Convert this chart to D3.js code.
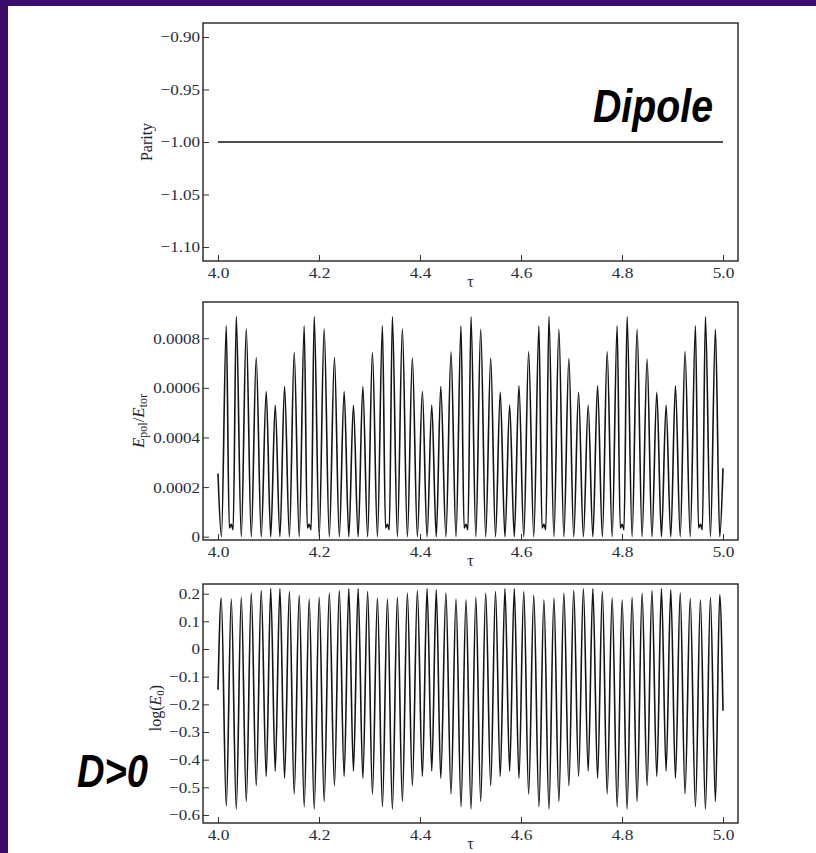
<!DOCTYPE html>
<html>
<head>
<meta charset="utf-8">
<script src="https://cdn.jsdelivr.net/npm/d3@7"></script>
<style>
  html, body { margin: 0; padding: 0; background: #3a0d6c; }
  svg { display: block; }
</style>
</head>
<body>
<svg id="chart" width="816" height="853"></svg>
<script>
// ---- data -------------------------------------------------------------
const tauTicks    = [4.0, 4.2, 4.4, 4.6, 4.8, 5.0];
const parityTicks = [-0.90, -0.95, -1.00, -1.05, -1.10];
const ratioTicks  = [0, 0.0002, 0.0004, 0.0006, 0.0008];
const logTicks    = [0.2, 0.1, 0, -0.1, -0.2, -0.3, -0.4, -0.5, -0.6];

// parity stays at -1 over the whole window
const parityTau = [4.0, 5.0];
const parityVal = [-1.0, -1.0];

// E_pol / E_tor : turning points of the oscillation
const ratioTau = [
  4.0000, 4.0068, 4.0164, 4.0224, 4.0263, 4.0300, 4.0362, 4.0461, 4.0560, 4.0659,
  4.0757, 4.0856, 4.0955, 4.1044, 4.1133, 4.1226, 4.1318, 4.1414, 4.1509, 4.1608,
  4.1707, 4.1768, 4.1806, 4.1844, 4.1905, 4.2004, 4.2102, 4.2204, 4.2306, 4.2402,
  4.2498, 4.2590, 4.2682, 4.2775, 4.2868, 4.2963, 4.3058, 4.3157, 4.3256, 4.3317,
  4.3355, 4.3392, 4.3453, 4.3552, 4.3651, 4.3750, 4.3849, 4.3948, 4.4047, 4.4140,
  4.4233, 4.4322, 4.4411, 4.4513, 4.4614, 4.4713, 4.4812, 4.4873, 4.4911, 4.4949,
  4.5010, 4.5106, 4.5202, 4.5301, 4.5400, 4.5495, 4.5589, 4.5682, 4.5775, 4.5867,
  4.5959, 4.6055, 4.6151, 4.6253, 4.6355, 4.6416, 4.6454, 4.6492, 4.6553, 4.6652,
  4.6750, 4.6849, 4.6948, 4.7044, 4.7140, 4.7235, 4.7330, 4.7423, 4.7516, 4.7611,
  4.7706, 4.7805, 4.7904, 4.7965, 4.8003, 4.8040, 4.8101, 4.8200, 4.8299, 4.8398,
  4.8497, 4.8593, 4.8689, 4.8781, 4.8873, 4.8966, 4.9058, 4.9153, 4.9248, 4.9351,
  4.9454, 4.9515, 4.9553, 4.9591, 4.9652, 4.9751, 4.9850, 4.9935, 5.0000
];
const ratioVal = [
  0.000255, 0.000000, 0.000850, 0.000035, 0.000050, 0.000028, 0.000887, 0.000000, 0.000838, 0.000000,
  0.000722, 0.000000, 0.000585, 0.000000, 0.000530, 0.000000, 0.000605, 0.000000, 0.000742, 0.000000,
  0.000850, 0.000035, 0.000050, 0.000028, 0.000887, 0.000000, 0.000838, 0.000000, 0.000722, 0.000000,
  0.000585, 0.000000, 0.000530, 0.000000, 0.000605, 0.000000, 0.000742, 0.000000, 0.000850, 0.000035,
  0.000050, 0.000028, 0.000887, 0.000000, 0.000838, 0.000000, 0.000720, 0.000000, 0.000585, 0.000000,
  0.000530, 0.000000, 0.000605, 0.000000, 0.000744, 0.000000, 0.000850, 0.000035, 0.000050, 0.000028,
  0.000887, 0.000000, 0.000836, 0.000000, 0.000720, 0.000000, 0.000582, 0.000000, 0.000530, 0.000000,
  0.000608, 0.000000, 0.000745, 0.000000, 0.000850, 0.000035, 0.000050, 0.000028, 0.000887, 0.000000,
  0.000836, 0.000000, 0.000718, 0.000000, 0.000582, 0.000000, 0.000530, 0.000000, 0.000608, 0.000000,
  0.000745, 0.000000, 0.000850, 0.000035, 0.000050, 0.000028, 0.000887, 0.000000, 0.000836, 0.000000,
  0.000716, 0.000000, 0.000582, 0.000000, 0.000530, 0.000000, 0.000608, 0.000000, 0.000746, 0.000000,
  0.000850, 0.000035, 0.000050, 0.000028, 0.000887, 0.000000, 0.000836, 0.000000, 0.000276
];

// log(E_0) : turning points of the oscillation
const logTau = [
  4.0000, 4.0065, 4.0164, 4.0263, 4.0362, 4.0461, 4.0560, 4.0659, 4.0757, 4.0856,
  4.0955, 4.1044, 4.1133, 4.1226, 4.1318, 4.1414, 4.1509, 4.1608, 4.1707, 4.1806,
  4.1905, 4.2004, 4.2102, 4.2204, 4.2306, 4.2402, 4.2498, 4.2590, 4.2682, 4.2775,
  4.2868, 4.2963, 4.3058, 4.3157, 4.3256, 4.3355, 4.3453, 4.3552, 4.3651, 4.3750,
  4.3849, 4.3948, 4.4047, 4.4140, 4.4233, 4.4322, 4.4411, 4.4513, 4.4614, 4.4713,
  4.4812, 4.4911, 4.5010, 4.5106, 4.5202, 4.5301, 4.5400, 4.5495, 4.5589, 4.5682,
  4.5775, 4.5867, 4.5959, 4.6055, 4.6151, 4.6253, 4.6355, 4.6454, 4.6553, 4.6652,
  4.6750, 4.6849, 4.6948, 4.7044, 4.7140, 4.7235, 4.7330, 4.7423, 4.7516, 4.7611,
  4.7706, 4.7805, 4.7904, 4.8003, 4.8101, 4.8200, 4.8299, 4.8398, 4.8497, 4.8593,
  4.8689, 4.8781, 4.8873, 4.8966, 4.9058, 4.9153, 4.9248, 4.9351, 4.9454, 4.9553,
  4.9652, 4.9751, 4.9850, 4.9935, 5.0000
];
const logVal = [
  -0.147, 0.184, -0.568, 0.181, -0.579, 0.187, -0.551, 0.202, -0.494, 0.211,
  -0.461, 0.218, -0.441, 0.218, -0.467, 0.208, -0.524, 0.194, -0.570, 0.181,
  -0.579, 0.187, -0.551, 0.202, -0.494, 0.211, -0.461, 0.218, -0.441, 0.218,
  -0.467, 0.208, -0.524, 0.184, -0.570, 0.181, -0.579, 0.187, -0.551, 0.202,
  -0.494, 0.211, -0.461, 0.218, -0.441, 0.214, -0.467, 0.202, -0.524, 0.181,
  -0.570, 0.178, -0.579, 0.187, -0.551, 0.202, -0.494, 0.208, -0.461, 0.218,
  -0.441, 0.218, -0.467, 0.208, -0.524, 0.194, -0.570, 0.178, -0.579, 0.184,
  -0.551, 0.202, -0.494, 0.211, -0.461, 0.218, -0.441, 0.218, -0.467, 0.208,
  -0.524, 0.184, -0.570, 0.178, -0.579, 0.187, -0.551, 0.202, -0.494, 0.211,
  -0.461, 0.218, -0.441, 0.214, -0.467, 0.202, -0.524, 0.182, -0.570, 0.178,
  -0.579, 0.187, -0.551, 0.196, -0.223
];

// ---- layout -----------------------------------------------------------
const svg = d3.select("#chart");
const W = 816, H = 853;

svg.append("rect").attr("width", W).attr("height", H).attr("fill", "#3a0d6c");
svg.append("rect").attr("x", 8).attr("y", 6).attr("width", W - 8).attr("height", H - 6).attr("fill", "#ffffff");

const frameLeft = 203, frameRight = 738;
const tickColor = "#272d3d";
const serif = "'Liberation Serif', 'Times New Roman', serif";

function stretchText(sel, k) {
  sel.each(function () {
    const len = this.getComputedTextLength();
    d3.select(this).attr("textLength", len * k).attr("lengthAdjust", "spacingAndGlyphs");
  });
}

function drawPanel(p) {
  const x = d3.scaleLinear().domain([3.9703, 5.0297]).range([frameLeft, frameRight]);
  const y = d3.scaleLinear().domain(p.yDomain).range([p.bottom, p.top]);
  const g = svg.append("g");

  // x axis with inward ticks
  const xa = g.append("g")
    .attr("transform", `translate(0,${p.bottom})`)
    .call(d3.axisBottom(x).tickValues(tauTicks).tickFormat(d3.format(".1f"))
      .tickSizeInner(-6).tickSizeOuter(0).tickPadding(6.2));
  xa.select(".domain").remove();
  xa.selectAll("line").attr("stroke", "#333").attr("stroke-width", 1);
  xa.selectAll("text").attr("font-family", serif).attr("font-size", 15.5).attr("fill", tickColor)
    .call(stretchText, 1.12);

  // y axis with inward ticks
  const ya = g.append("g")
    .attr("transform", `translate(${frameLeft},0)`)
    .call(d3.axisLeft(y).tickValues(p.yTicks).tickFormat(p.yFormat)
      .tickSizeInner(-6).tickSizeOuter(0).tickPadding(3));
  ya.select(".domain").remove();
  ya.selectAll("line").attr("stroke", "#333").attr("stroke-width", 1);
  ya.selectAll("text").attr("font-family", serif).attr("font-size", 15.5).attr("fill", tickColor)
    .call(stretchText, 1.1);

  // frame
  g.append("rect")
    .attr("x", frameLeft).attr("y", p.top)
    .attr("width", frameRight - frameLeft).attr("height", p.bottom - p.top)
    .attr("fill", "none").attr("stroke", "#222").attr("stroke-width", 1.4);

  // series
  const clipId = "clip" + p.id;
  svg.append("clipPath").attr("id", clipId).append("rect")
    .attr("x", frameLeft).attr("y", p.top).attr("width", frameRight - frameLeft).attr("height", p.bottom - p.top);
  const pts = p.tau.map((t, i) => [t, p.val[i]]);
  g.append("path")
    .attr("clip-path", `url(#${clipId})`)
    .attr("d", d3.line().x(d => x(d[0])).y(d => y(d[1])).curve(p.curve)(pts))
    .attr("fill", "none").attr("stroke", "#141414").attr("stroke-width", p.lineWidth)
    .attr("stroke-linejoin", "round");

  // tau label
  g.append("text")
    .attr("x", x(4.5)).attr("y", p.bottom + 26)
    .attr("text-anchor", "middle").attr("font-family", serif).attr("font-size", 16)
    .attr("fill", tickColor).text("τ");

  return { x, y, g };
}

const minus = d3.format(".2f");
const fmtParity = d => minus(d).replace("-", "\u2212");
const fmtRatio = d => d === 0 ? "0" : d3.format(".4f")(d);
const fmtLog = d => d === 0 ? "0" : d3.format(".1f")(d).replace("-", "\u2212");

drawPanel({ id: 1, top: 23, bottom: 261, yDomain: [-1.1133, -0.8867], yTicks: parityTicks,
  yFormat: fmtParity, tau: parityTau, val: parityVal, curve: d3.curveLinear, lineWidth: 1.3 });
drawPanel({ id: 2, top: 302, bottom: 540, yDomain: [-0.0000133, 0.000946], yTicks: ratioTicks,
  yFormat: fmtRatio, tau: ratioTau, val: ratioVal, curve: d3.curveMonotoneX, lineWidth: 1.6 });
drawPanel({ id: 3, top: 584, bottom: 823, yDomain: [-0.629, 0.235], yTicks: logTicks,
  yFormat: fmtLog, tau: logTau, val: logVal, curve: d3.curveMonotoneX, lineWidth: 1.6 });

// ---- axis titles ------------------------------------------------------
svg.append("text")
  .attr("transform", "translate(152,142) rotate(-90)")
  .attr("text-anchor", "middle").attr("font-family", serif).attr("font-size", 16)
  .attr("fill", "#1f2433").text("Parity");

const t2 = svg.append("text")
  .attr("transform", "translate(144,421) rotate(-90)")
  .attr("text-anchor", "middle").attr("font-family", serif).attr("font-size", 17)
  .attr("fill", "#1f2433");
t2.append("tspan").attr("font-style", "italic").text("E");
t2.append("tspan").attr("font-size", 12).attr("dy", 3).text("pol");
t2.append("tspan").attr("dy", -3).text("/");
t2.append("tspan").attr("font-style", "italic").text("E");
t2.append("tspan").attr("font-size", 12).attr("dy", 3).text("tor");

const t3 = svg.append("text")
  .attr("transform", "translate(161,708) rotate(-90)")
  .attr("text-anchor", "middle").attr("font-family", serif).attr("font-size", 16)
  .attr("fill", "#1f2433");
t3.append("tspan").text("log(");
t3.append("tspan").attr("font-style", "italic").text("E");
t3.append("tspan").attr("font-size", 11).attr("dy", 3).text("0");
t3.append("tspan").attr("dy", -3).text(")");

// ---- annotations ------------------------------------------------------
svg.append("text")
  .attr("x", 593).attr("y", 122)
  .attr("font-family", "'Liberation Sans', Arial, sans-serif").attr("font-weight", "bold")
  .attr("font-style", "italic").attr("font-size", 46).attr("fill", "#000")
  .attr("textLength", 120).attr("lengthAdjust", "spacingAndGlyphs")
  .text("Dipole");

svg.append("text")
  .attr("x", 77).attr("y", 787)
  .attr("font-family", "'Liberation Sans', Arial, sans-serif").attr("font-weight", "bold")
  .attr("font-style", "italic").attr("font-size", 46).attr("fill", "#000")
  .attr("textLength", 71).attr("lengthAdjust", "spacingAndGlyphs")
  .text("D>0");
</script>
</body>
</html>
